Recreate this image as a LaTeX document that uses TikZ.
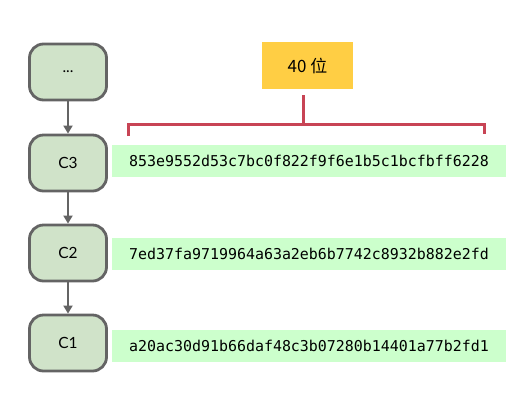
\documentclass[tikz,border=0pt]{standalone}
\usepackage{fontspec}
\setsansfont{Lato}
\setmonofont{DejaVu Sans Mono}
\newfontfamily\cjkfont{Noto Sans CJK SC}
\usepackage{xcolor}
\usepackage{tikz}
\usetikzlibrary{arrows.meta}
\definecolor{commitfill}{RGB}{208,227,201}
\definecolor{commitline}{RGB}{100,100,100}
\definecolor{hashfill}{RGB}{204,255,204}
\definecolor{tagfill}{RGB}{255,206,68}
\definecolor{bracecol}{RGB}{200,68,85}
\tikzset{
  commit/.style={draw=commitline,fill=commitfill,line width=2.8bp,rounded corners=14bp,minimum width=77bp,minimum height=56bp,inner sep=0pt,font=\sffamily\fontsize{15.5}{17}\selectfont},
  hash/.style={fill=hashfill,minimum width=394bp,minimum height=32bp,inner sep=0pt,font=\ttfamily\fontsize{15}{17}\selectfont},
  tag/.style={fill=tagfill,minimum width=91bp,minimum height=47bp,inner sep=0pt,font=\cjkfont\fontsize{17}{19}\selectfont},
  parent/.style={-{Triangle[length=8bp,width=9bp]},draw=commitline,line width=1.8bp},
  bracket/.style={draw=bracecol,line width=3bp},
}

\begin{document}
\begin{tikzpicture}[x=1bp,y=-1bp]
  \useasboundingbox (0,0) rectangle (531,401);
  % commits
  \node[commit] (cdots) at (68,72) {...};
  \node[commit] (c3) at (68,163) {C3};
  \node[commit] (c2) at (68,253) {C2};
  \node[commit] (c1) at (68,343) {C1};
  \draw[parent] (cdots) -- (c3);
  \draw[parent] (c3) -- (c2);
  \draw[parent] (c2) -- (c1);
  % hashes
  \node[hash] (h3) at (309,161) {853e9552d53c7bc0f822f9f6e1b5c1bcfbff6228};
  \node[hash] (h2) at (309,254) {7ed37fa9719964a63a2eb6b7742c8932b882e2fd};
  \node[hash] (h1) at (309,346) {a20ac30d91b66daf48c3b07280b14401a77b2fd1};
  % length label
  \node[tag] (bits) at (307.5,65.5) {40 位};
  \coordinate (stem) at (303,95);
  \coordinate (knot) at (303,124);
  \coordinate (lend) at (128,136);
  \coordinate (rend) at (484,134);
  \draw[bracket] (stem) -- (knot);
  \draw[bracket] (lend) -- (lend |- knot) -- (rend |- knot) -- (rend);
\end{tikzpicture}
\end{document}
